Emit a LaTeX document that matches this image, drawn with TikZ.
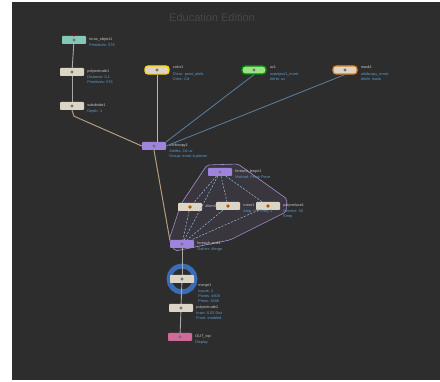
\documentclass[tikz,border=0pt]{standalone}
\usepackage{fontspec}
\setmainfont{Liberation Sans}
\begin{document}
\definecolor{bg}{HTML}{2D2D2D}
\definecolor{ttl}{HTML}{474747}
\definecolor{nm}{HTML}{C8C8C8}
\definecolor{sub}{HTML}{5E9CCB}
\definecolor{teal}{HTML}{86C8B8}
\definecolor{beige}{HTML}{DCD4C4}
\definecolor{purp}{HTML}{9E84DC}
\definecolor{pink}{HTML}{D06A9A}
\definecolor{wire}{HTML}{A8A8A8}
\definecolor{tan}{HTML}{B49C7C}
\definecolor{ywire}{HTML}{C8BA78}
\definecolor{bluew}{HTML}{56799C}
\definecolor{grp}{HTML}{A88CD0}
\definecolor{ring}{HTML}{3B6CB5}
\begin{tikzpicture}[x=1pt,y=-1pt,
  nd/.style={rectangle,rounded corners=0.8pt,minimum width=24pt,minimum height=8pt,inner sep=0pt,
    path picture={\fill[black!55] (path picture bounding box.center) circle (1.7pt);}},
  odot/.style={path picture={\fill[orange!70!black] (path picture bounding box.center) circle (1.9pt);}},
  txt/.style={anchor=north west,align=left,inner sep=0pt,font=\fontsize{3.8}{4.8}\selectfont,text=nm},
  wirel/.style={draw=wire,line width=0.9pt},
  tanl/.style={draw=tan,line width=1pt},
  bluel/.style={draw=bluew,line width=0.9pt},
  dsh/.style={draw=sub!70!white,line width=0.55pt,dash pattern=on 2pt off 1.5pt}]
% canvas
\useasboundingbox (0,0) rectangle (440,382);
\fill[white] (0,0) rectangle (440,382);
\fill[bg] (12,2) rectangle (440,380);
\node[text=ttl,font=\fontsize{11}{12}\selectfont] (title) at (212,18) {Education Edition};

% node group frame
\filldraw[draw=grp,fill=grp,fill opacity=0.10,line width=0.6pt,rounded corners=2pt]
  (207,165) -- (238,164) -- (287,199) -- (286,212) -- (230,240) -- (175,251) -- (169,240) -- (181,204) -- cycle;

% nodes
\node[nd,fill=teal] (a) at (74,40) {};
\fill[red!70!black] (74,35) circle (1.7pt);
\node[nd,fill=beige] (b) at (72,72) {};
\node[nd,fill=beige] (c) at (72,106) {};
\node[nd,fill=beige,draw=yellow!75!orange,line width=1.3pt,rounded corners=3pt] (e) at (157,70) {};
\node[nd,fill=beige!70!green,draw=green!55!black,line width=1.3pt,rounded corners=3pt] (f) at (254,70) {};
\node[nd,fill=beige,draw=orange!50!brown,line width=1.1pt,rounded corners=3pt] (g) at (345,70) {};
\node[nd,fill=purp] (d) at (154,146) {};
\node[nd,fill=purp] (i) at (220,172) {};
\node[nd,fill=beige,odot] (j) at (190,207) {};
\node[nd,fill=beige,odot] (k) at (228,206) {};
\node[nd,fill=beige,odot] (l) at (268,206) {};
\node[nd,fill=purp] (h) at (182,244) {};
\node[circle,draw=ring,line width=5pt,minimum size=26pt,inner sep=0pt] (mr) at (182,279) {};
\node[nd,fill=beige] (m) at (182,279) {};
\node[nd,fill=beige] (n) at (181,308) {};
\node[nd,fill=pink] (o) at (180,337) {};

% labels
\node[txt] (at) at ([xshift=3pt,yshift=2pt]a.east) {torus\_object1\\[1pt]\textcolor{sub}{Primitives: 576}};
\node[txt] (bt) at ([xshift=3pt,yshift=2pt]b.east) {polyextrude1\\[1pt]\textcolor{sub}{Distance: 0.1}\\\textcolor{sub}{Primitives: 576}};
\node[txt] (ct) at ([xshift=3pt,yshift=2pt]c.east) {subdivide1\\[1pt]\textcolor{sub}{Depth: 1}};
\node[txt] (et) at ([xshift=3pt,yshift=4pt]e.east) {color1\\[2pt]\textcolor{sub}{Class: point\_attrib}\\\textcolor{sub}{Color: Cd}};
\node[txt] (ft) at ([xshift=3pt,yshift=4pt]f.east) {uv1\\[2pt]\textcolor{sub}{uvproject1\_mask}\\\textcolor{sub}{Attrib: uv}};
\node[txt] (gt) at ([xshift=3pt,yshift=4pt]g.east) {mask1\\[2pt]\textcolor{sub}{attribcopy\_mask}\\\textcolor{sub}{Attrib: mask}};
\node[txt] (dt) at ([xshift=3pt,yshift=2pt]d.east) {attribcopy1\\[1pt]\textcolor{sub}{Attribs: Cd uv}\\\textcolor{sub}{Group: mask \& pieces}};
\node[txt] (it) at ([xshift=3pt,yshift=2pt]i.east) {foreach\_begin1\\[1pt]\textcolor{sub}{Method: Fetch Piece}};
\node[txt] (jt) at ([xshift=3pt,yshift=2pt]j.east) {xform1};
\node[txt] (kt) at ([xshift=3pt,yshift=2pt]k.east) {noise1\\[1pt]\textcolor{sub}{Amp: 0.2 Freq: 3}};
\node[txt] (lt) at ([xshift=3pt,yshift=2pt]l.east) {polyreduce1\\[1pt]\textcolor{sub}{Percent: 50}\\\textcolor{sub}{Keep}};
\node[txt] (ht) at ([xshift=3pt,yshift=2pt]h.east) {foreach\_end1\\[1pt]\textcolor{sub}{Gather: Merge}};
\node[txt] (mt) at ([xshift=4pt,yshift=-5pt]m.east) {merge1\\[1pt]\textcolor{sub}{Inputs: 2}\\\textcolor{sub}{Points: 4608}\\\textcolor{sub}{Prims: 4608}};
\node[txt] (nt) at ([xshift=3pt,yshift=2pt]n.east) {polyextrude2\\[1pt]\textcolor{sub}{Inset: 0.02 Dist}\\\textcolor{sub}{Front: enabled}};
\node[txt] (ot) at ([xshift=3pt,yshift=2pt]o.east) {OUT\_top\\[1pt]\textcolor{sub}{Display}};

% wires
\draw[wirel] (a) -- (b);
\draw[wirel] (b) -- (c);
\draw[tanl] (c.south) -- ++(2,6) -- (d.west);
\draw[draw=ywire,line width=1pt] (e.south) -- (e.south |- d.north);
\draw[bluel] (f.south) -- (d.north east);
\draw[bluel] (g.south) -- (d.east);
\draw[tanl] (d.south) -- (h.north west);
\draw[dsh] (i) -- (j);
\draw[dsh] (i) -- (k);
\draw[dsh] (i) -- (l);
\draw[dsh] (j) -- (h);
\draw[dsh] (k) -- (h);
\draw[dsh] (l) -- (h);
\draw[dsh] (i) -- (h);
\draw[wirel] (h) -- (m);
\draw[wirel] (m) -- (n);
\draw[wirel] (n) -- (o);
\end{tikzpicture}
\end{document}
